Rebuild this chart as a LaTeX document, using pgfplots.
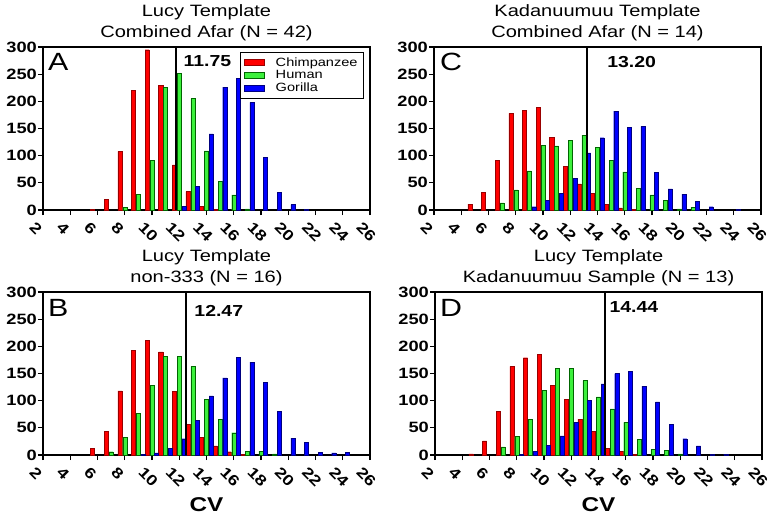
\documentclass[border=0pt]{standalone}
\usepackage{fontspec}
\setmainfont{Liberation Sans}[FakeStretch=1.22]
\usepackage{pgfplots}
\pgfplotsset{compat=1.18}
\definecolor{cred}{RGB}{255,0,0}
\definecolor{cgreen}{RGB}{60,240,60}
\definecolor{cblue}{RGB}{0,0,255}
\tikzset{
  vlab/.style={anchor=west, font=\bfseries\fontsize{16}{16}\selectfont, inner sep=0},
  plab/.style={anchor=north west, font=\fontsize{25}{25}\selectfont, inner sep=0},
}
\pgfplotsset{
  panel/.style={
    scale only axis, width=327bp, height=163bp,
    anchor=north west,
    xmin=2, xmax=26, ymin=0, ymax=300,
    xtick={2,4,...,26}, ytick={0,50,...,300},
    xtick pos=bottom, ytick pos=left,
    tick align=outside, major tick length=5bp,
    tick style={black, line width=1.2bp},
    axis line style={line width=1.6bp},
    /pgf/number format/assume math mode=true,
    yticklabel style={font=\bfseries\fontsize{15}{15}\selectfont, inner sep=1bp},
    xticklabel style={font=\bfseries\fontsize{15}{15}\selectfont, rotate=-45, anchor=north west, xshift=-4bp, yshift=-6bp},
    title style={align=center, font=\fontsize{16.5}{21}\selectfont, at={(0.5,1)}, anchor=south, yshift=-3bp, inner sep=3bp},
    xlabel style={font=\bfseries\fontsize{20}{20}\selectfont, at={(0.5,0)}, anchor=center, yshift=-50bp},
    clip=false,
  },
  rb/.style={ybar, bar width=0.3, bar shift=-0.36, fill=cred, draw=red!60!black, line width=0.4bp},
  gb/.style={ybar, bar width=0.3, bar shift=0, fill=cgreen, draw=green!40!black, line width=0.4bp},
  bb/.style={ybar, bar width=0.3, bar shift=0.34, fill=cblue, draw=blue!50!black, line width=0.4bp},
  vline/.style={black, line width=2bp},
}
\begin{document}
\begin{tikzpicture}[x=1bp,y=1bp]
\useasboundingbox (0,0) rectangle (777,-518);
% ---------------- Panel A
\begin{axis}[panel, at={(43bp,-47bp)},
  title={Lucy Template\\Combined Afar (N = 42)},
  legend style={at={(1,1)}, anchor=north east, xshift=-6bp, yshift=-5bp, draw=black, line width=0.8bp,
    font=\fontsize{12}{12}\selectfont, cells={anchor=west}, inner xsep=4bp, inner ysep=3bp, row sep=-1bp},
  legend image code/.code={\fill[#1] (0bp,-3bp) rectangle (20bp,3bp);},
  legend cell align=left,
]
\addplot[rb] coordinates {(6,1) (7,20) (8,108) (9,220) (10,295) (11,230) (12,83) (13,34) (14,7) (15,1)};
\addlegendentry{\hspace{9bp}Chimpanzee}
\addplot[gb] coordinates {(8,5) (9,29) (10,92) (11,226) (12,252) (13,205) (14,109) (15,53) (16,28) (17,2)};
\addlegendentry{\hspace{9bp}Human}
\addplot[bb] coordinates {(12,7) (13,43) (14,140) (15,226) (16,242) (17,198) (18,97) (19,32) (20,10) (21,1)};
\addlegendentry{\hspace{9bp}Gorilla}
\addplot[vline, forget plot] coordinates {(11.75,0) (11.75,300)};
\node[vlab] at (axis cs:12.3,274) {11.75};
\node[plab] at (rel axis cs:0,1) [xshift=5bp,yshift=-6bp] {A};
\end{axis}
% ---------------- Panel C
\begin{axis}[panel, at={(434bp,-47bp)},
  title={Kadanuumuu Template\\Combined Afar (N = 14)}]
\addplot[rb] coordinates {(5,11) (6,33) (7,92) (8,178) (9,184) (10,189) (11,134) (12,80) (13,48) (14,31) (15,11) (16,4) (17,1)};
\addplot[gb] coordinates {(7,13) (8,37) (9,72) (10,119) (11,118) (12,128) (13,138) (14,115) (15,92) (16,70) (17,40) (18,28) (19,18) (20,2) (21,5)};
\addplot[bb] coordinates {(9,6) (10,18) (11,31) (12,58) (13,105) (14,133) (15,182) (16,152) (17,154) (18,69) (19,39) (20,29) (21,16) (22,6) (24,1)};
\addplot[vline] coordinates {(13.2,0) (13.2,300)};
\node[vlab] at (axis cs:14.7,272) {13.20};
\node[plab] at (rel axis cs:0,1) [xshift=6bp,yshift=-6bp] {C};
\end{axis}
% ---------------- Panel B
\begin{axis}[panel, at={(43bp,-292bp)},
  title={Lucy Template\\non-333 (N = 16)}, xlabel={CV}]
\addplot[rb] coordinates {(6,12) (7,43) (8,118) (9,192) (10,211) (11,190) (12,117) (13,57) (14,33) (15,17) (16,6) (17,1)};
\addplot[gb] coordinates {(7,6) (8,32) (9,77) (10,128) (11,181) (12,181) (13,163) (14,102) (15,66) (16,41) (17,7) (18,7) (19,2)};
\addplot[bb] coordinates {(9,1) (10,4) (11,12) (12,30) (13,64) (14,109) (15,142) (16,180) (17,171) (18,134) (19,80) (20,31) (21,23) (22,5) (23,4) (24,5)};
\addplot[vline] coordinates {(12.47,0) (12.47,300)};
\node[vlab] at (axis cs:13.1,265) {12.47};
\node[plab] at (rel axis cs:0,1) [xshift=5bp,yshift=-7bp] {B};
\end{axis}
% ---------------- Panel D
\begin{axis}[panel, at={(435bp,-292bp)},
  title={Lucy Template\\Kadanuumuu Sample (N = 13)}, xlabel={CV}]
\addplot[rb] coordinates {(5,2) (6,26) (7,80) (8,163) (9,179) (10,185) (11,128) (12,103) (13,66) (14,44) (15,12) (16,7) (17,1)};
\addplot[gb] coordinates {(7,15) (8,34) (9,66) (10,119) (11,160) (12,159) (13,137) (14,107) (15,85) (16,60) (17,29) (18,10) (19,8) (20,2)};
\addplot[bb] coordinates {(8,1) (9,7) (10,18) (11,35) (12,60) (13,101) (14,131) (15,150) (16,154) (17,127) (18,98) (19,57) (20,30) (21,17) (22,1) (23,1)};
\addplot[vline] coordinates {(14.44,0) (14.44,300)};
\node[vlab] at (axis cs:14.8,272) {14.44};
\node[plab] at (rel axis cs:0,1) [xshift=5bp,yshift=-7bp] {D};
\end{axis}
\end{tikzpicture}
\end{document}
